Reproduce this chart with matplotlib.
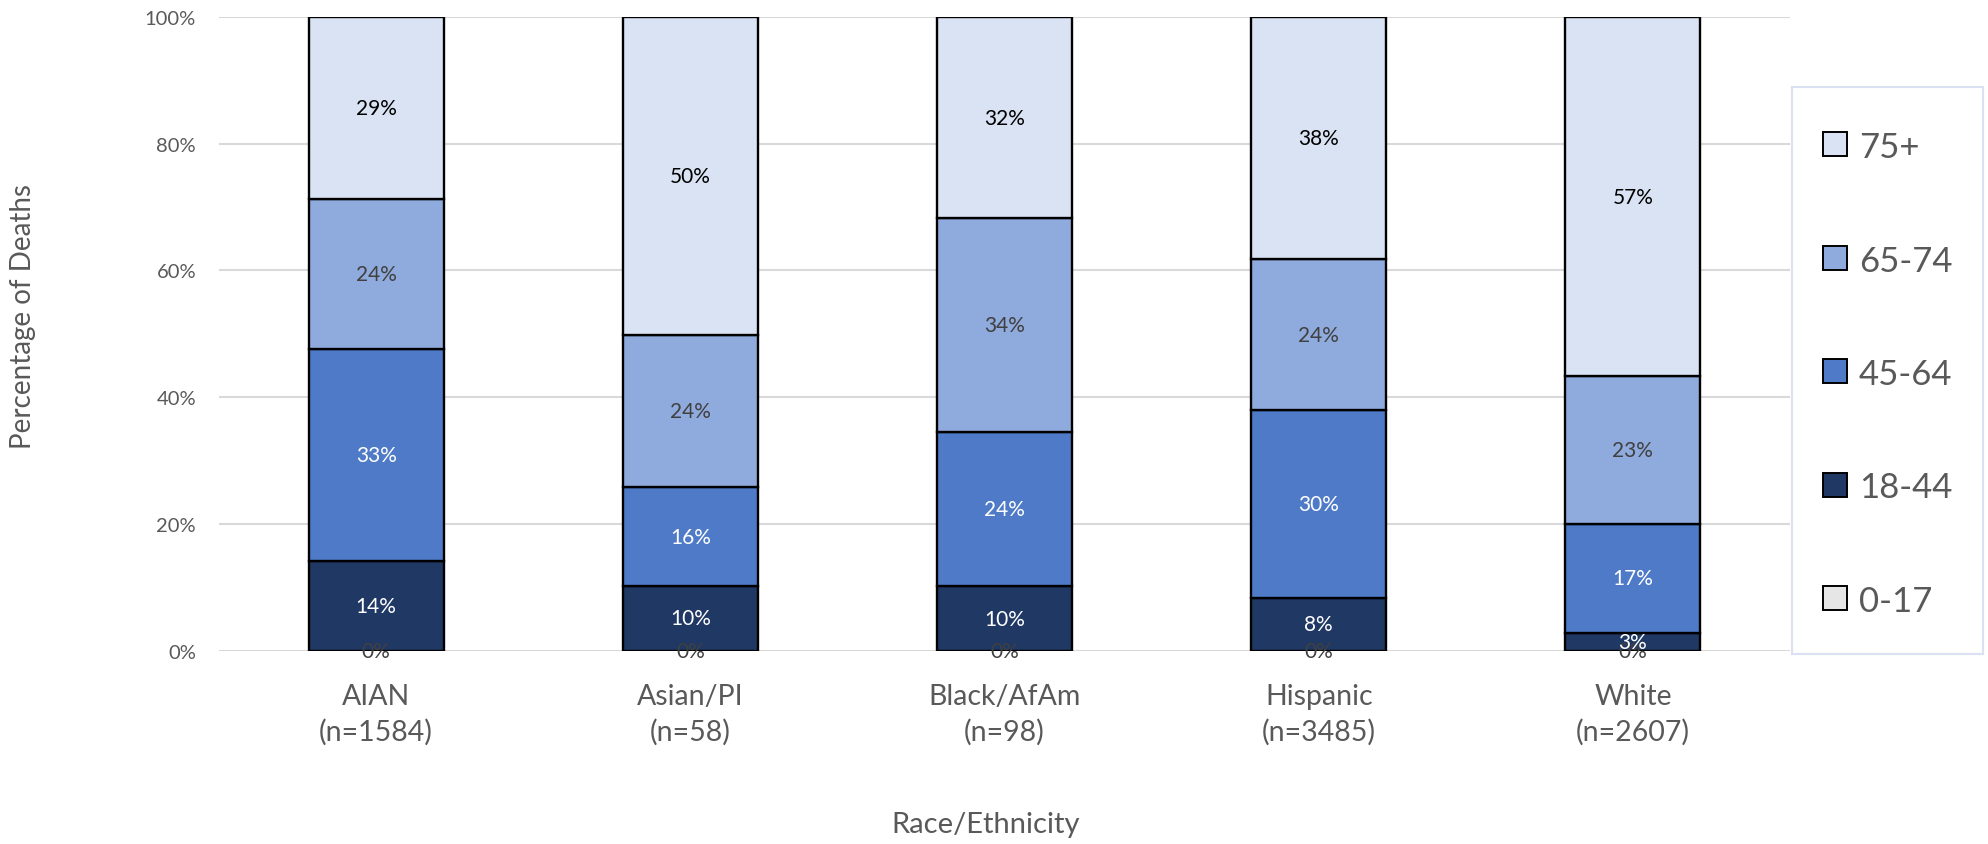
import numpy as np
from matplotlib import pyplot as plt
from matplotlib.patches import Rectangle

plt.rcParams['font.family'] = ['Lato', 'DejaVu Sans']

groups = ['AIAN', 'Asian/PI', 'Black/AfAm', 'Hispanic', 'White']
counts = [1584, 58, 98, 3485, 2607]
age_bands = ['0-17', '18-44', '45-64', '65-74', '75+']

# percent of deaths per age band (bottom to top)
pct_0_17 = [0.0, 0.0, 0.0, 0.0, 0.0]
pct_18_44 = [14.2, 10.3, 10.2, 8.4, 2.8]
pct_45_64 = [33.4, 15.5, 24.4, 29.6, 17.3]
pct_65_74 = [23.7, 24.1, 33.6, 23.8, 23.2]
pct_75_up = [28.7, 50.1, 31.8, 38.2, 56.7]

series = [pct_0_17, pct_18_44, pct_45_64, pct_65_74, pct_75_up]
fills = ['#E7E6E6', '#203864', '#4E7AC7', '#8FAADC', '#DAE3F3']
label_colors = ['#404040', 'white', 'white', '#404040', 'black']

W, H = 1988, 845
fig = plt.figure(figsize=(W / 100, H / 100), dpi=100)
ax = fig.add_axes([219 / W, 1 - 652 / H, (1790 - 219) / W, (652 - 17.8) / H])

x = np.arange(len(groups))
bottom = np.zeros(len(groups))
for vals, fc, lc in zip(series, fills, label_colors):
    vals = np.array(vals)
    ax.bar(x, vals, 0.43, bottom=bottom, color=fc, edgecolor='black',
           linewidth=1.7, zorder=3)
    for xi, b, v in zip(x, bottom, vals):
        ax.text(xi, b + v / 2, f'{v:.0f}%', ha='center', va='center',
                fontsize=15, color=lc, zorder=4)
    bottom += vals

ax.set_xlim(-0.5, 4.5)
ax.set_ylim(0, 100)
ax.set_yticks(np.arange(0, 101, 20))
ax.set_yticklabels([f'{t}%' for t in range(0, 101, 20)], fontsize=14.5, color='#595959')
ax.set_xticks(x)
ax.set_xticklabels([f'{g}\n(n={n})' for g, n in zip(groups, counts)],
                   fontsize=20.5, color='#595959', linespacing=1.4)
ax.tick_params(length=0)
ax.tick_params(axis='x', pad=23)
ax.tick_params(axis='y', pad=16.5)
ax.grid(axis='y', color='#D9D9D9', linewidth=1.5, zorder=0)
for s in ax.spines.values():
    s.set_visible(False)

fig.text(23 / W, 0.625, 'Percentage of Deaths', rotation=90, ha='center',
         va='center', fontsize=20, color='#595959')
fig.text(0.496, 0.0237, 'Race/Ethnicity', ha='center', va='center',
         fontsize=21, color='#595959')

# legend box drawn by hand, top entry is the top segment
fig.patches.append(Rectangle((1792 / W, 1 - 655 / H), (1983 - 1792) / W, (655 - 88) / H,
                             transform=fig.transFigure, facecolor='white',
                             edgecolor='#D9E1F2', linewidth=1.5))
for i, (band, fc) in enumerate(zip(age_bands[::-1], fills[::-1])):
    yc = 145 + i * 113.5
    fig.patches.append(Rectangle((1823 / W, 1 - (yc + 12) / H), 24 / W, 24 / H,
                                 transform=fig.transFigure, facecolor=fc,
                                 edgecolor='black', linewidth=1.4))
    fig.text(1859 / W, 1 - yc / H, band, ha='left', va='center_baseline',
             fontsize=25, color='#595959')

fig.savefig('out.png', dpi=100)
